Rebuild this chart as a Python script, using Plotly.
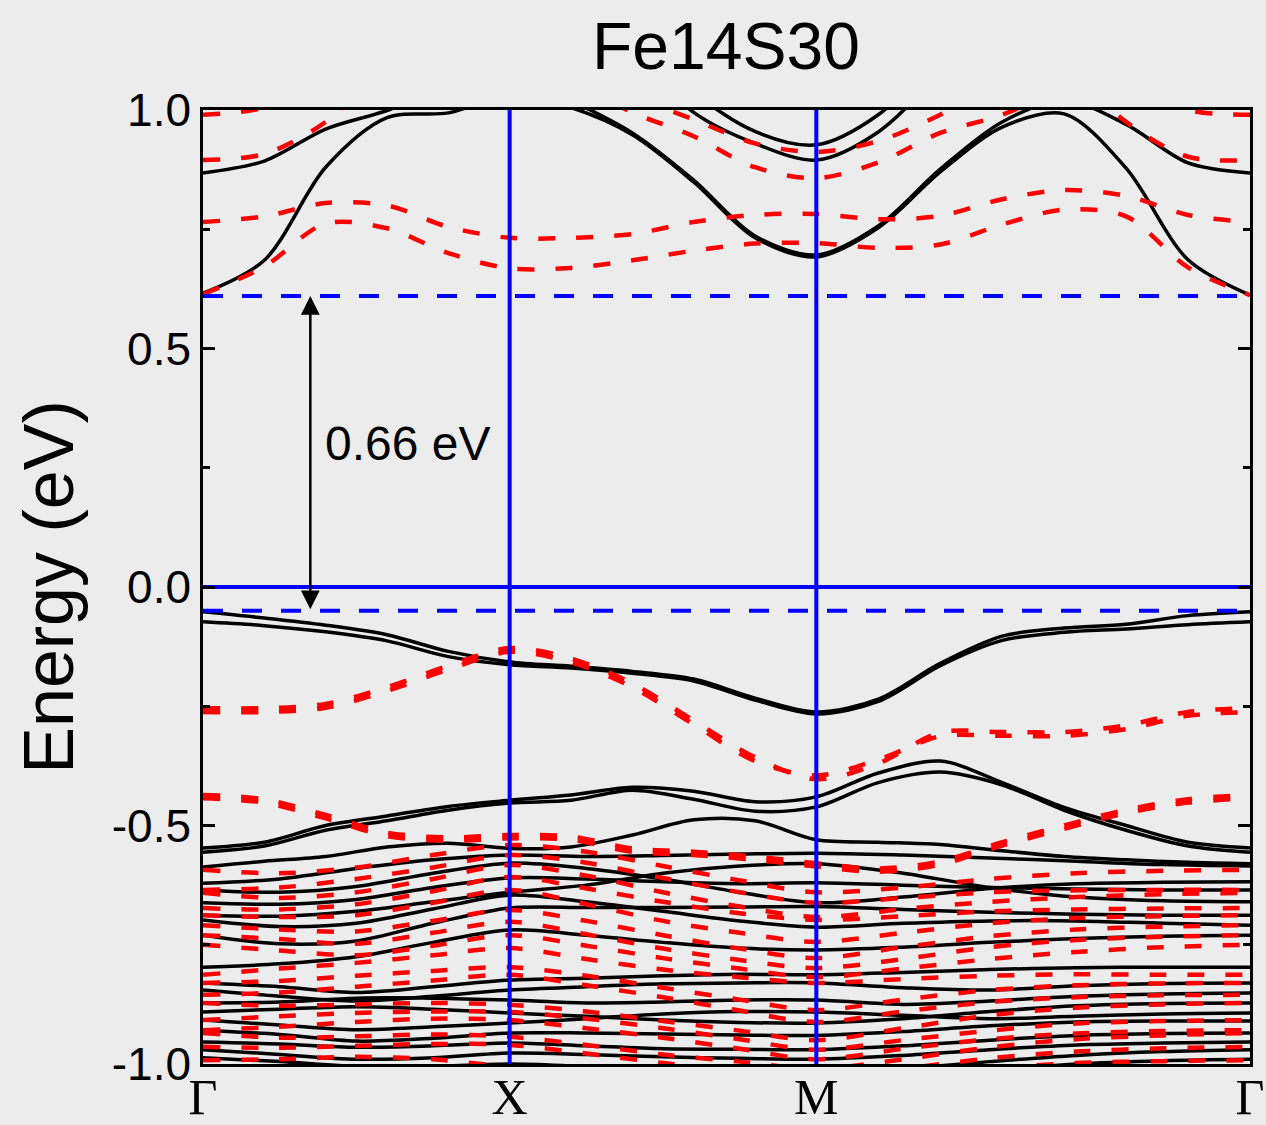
import plotly.graph_objects as go

# ---------------- k-path ----------------
KLABELS = ["Γ", "X", "M", "Γ"]
KNODES = [0.0, 1.0, 2.0, 3.4142]
# sampling grid for the upper bands (18 points)
KU = [0.0, 0.2, 0.4, 0.6, 0.8, 1.0, 1.2, 1.4, 1.6, 1.8, 2.0,
      2.2020, 2.4041, 2.6061, 2.8081, 3.0101, 3.2122, 3.4142]
# sampling grid for the dense lower bands (14 points)
KD = [0.0, 0.25, 0.5, 0.75, 1.0, 1.25, 1.5, 1.75, 2.0,
      2.2828, 2.5657, 2.8485, 3.1314, 3.4142]

# ---------------- gap markers ----------------
VBM = -0.05
CBM = 0.61
GAP_TEXT = "0.66 eV"
ARROW_K = 0.35
GAP_LABEL_K = 0.39
GAP_LABEL_E = 0.30

# ---------------- black (solid) upper bands on KU ----------------
BK_A = [0.616, 0.685, 0.880, 0.984, 0.994, 1.03, 1.005, 0.948, 0.849, 0.732, 0.692,
        0.753, 0.870, 0.964, 0.992, 0.878, 0.686, 0.612]
BK_B = [0.868, 0.893, 0.960, 0.999, 1.05, 1.08, 1.02, 0.952, 0.853, 0.736, 0.696,
        0.757, 0.876, 0.975, 1.02, 0.970, 0.889, 0.868]
BK_DLO = [None, None, None, None, None, None, None, 1.12, 0.995, 0.930, 0.895,
          0.954, 1.08, None, None, None, None, None]
BK_DUP = [None, None, None, None, None, None, None, 1.20, 1.04, 0.955, 0.927,
          0.990, 1.12, None, None, None, None, None]
BK_V1A = [-0.052, -0.065, -0.080, -0.100, -0.135, -0.157, -0.166, -0.177, -0.193, -0.233, -0.262,
          -0.235, -0.160, -0.103, -0.086, -0.078, -0.060, -0.052]
BK_V1B = [-0.073, -0.081, -0.094, -0.113, -0.146, -0.163, -0.170, -0.181, -0.197, -0.237, -0.266,
          -0.240, -0.165, -0.112, -0.095, -0.088, -0.079, -0.073]
BK_V2A = [-0.547, -0.535, -0.500, -0.480, -0.460, -0.447, -0.436, -0.420, -0.428, -0.450, -0.440,
          -0.390, -0.365, -0.410, -0.462, -0.500, -0.535, -0.547]
BK_V2B = [-0.556, -0.543, -0.510, -0.490, -0.468, -0.453, -0.447, -0.426, -0.445, -0.470, -0.461,
          -0.410, -0.388, -0.415, -0.468, -0.510, -0.543, -0.556]
BK_V3 = [-0.587, -0.575, -0.565, -0.545, -0.537, -0.548, -0.545, -0.520, -0.488, -0.490, -0.530,
         -0.535, -0.540, -0.553, -0.565, -0.572, -0.577, -0.580]

# ---------------- red (dashed) upper bands on KU ----------------
RD_1 = [0.614, 0.672, 0.762, 0.752, 0.700, 0.668, 0.669, 0.685, 0.705, 0.720, 0.721,
        0.711, 0.718, 0.760, 0.791, 0.777, 0.670, 0.612]
RD_4 = [0.765, 0.777, 0.805, 0.800, 0.755, 0.732, 0.732, 0.740, 0.765, 0.780, 0.782,
        0.771, 0.778, 0.813, 0.832, 0.820, 0.780, 0.765]
RD_2 = [0.895, 0.908, 0.975, 1.10, None, None, None, None, None, None, None,
        None, None, None, 1.10, 0.975, 0.902, 0.895]
RD_3 = [0.990, 1.005, 1.06, None, None, None, None, None, None, None, None,
        None, None, None, None, 1.06, 1.000, 0.990]
RD_6 = [None, None, None, None, None, 1.12, 1.06, 0.995, 0.945, 0.880, 0.857,
        0.890, 0.952, 0.990, 1.05, None, None, None]
RD_7 = [None, None, None, None, None, None, 1.10, 1.03, 0.980, 0.930, 0.912,
        0.935, 0.990, 1.06, None, None, None, None]
RD_V1A = [-0.254, -0.254, -0.245, -0.210, -0.165, -0.128, -0.150, -0.202, -0.280, -0.357, -0.403,
          -0.370, -0.305, -0.304, -0.304, -0.290, -0.262, -0.254]
RD_V1B = [-0.262, -0.262, -0.253, -0.218, -0.173, -0.136, -0.158, -0.210, -0.288, -0.365, -0.395,
          -0.362, -0.313, -0.312, -0.312, -0.298, -0.270, -0.262]
RD_V2A = [-0.436, -0.445, -0.478, -0.515, -0.525, -0.520, -0.523, -0.548, -0.555, -0.565, -0.579,
          -0.590, -0.575, -0.535, -0.500, -0.467, -0.445, -0.436]
RD_V2B = [-0.443, -0.452, -0.485, -0.522, -0.532, -0.527, -0.530, -0.555, -0.562, -0.572, -0.586,
          -0.597, -0.582, -0.542, -0.507, -0.474, -0.452, -0.443]

# ---------------- dense black bands on KD ----------------
DK01 = [-0.621, -0.612, -0.590, -0.572, -0.562, -0.565, -0.563, -0.560, -0.558, -0.562, -0.568, -0.575, -0.582, -0.585]
DK02 = [-0.635, -0.640, -0.628, -0.600, -0.579, -0.590, -0.612, -0.640, -0.662, -0.650, -0.632, -0.622, -0.619, -0.618]
DK03 = [-0.662, -0.665, -0.655, -0.630, -0.610, -0.612, -0.618, -0.622, -0.620, -0.625, -0.630, -0.633, -0.635, -0.635]
DK04 = [-0.688, -0.690, -0.680, -0.660, -0.640, -0.625, -0.600, -0.585, -0.580, -0.600, -0.630, -0.650, -0.658, -0.660]
DK05 = [-0.698, -0.712, -0.705, -0.675, -0.646, -0.660, -0.680, -0.700, -0.713, -0.705, -0.700, -0.700, -0.705, -0.709]
DK06 = [-0.730, -0.748, -0.742, -0.705, -0.673, -0.672, -0.672, -0.671, -0.670, -0.676, -0.682, -0.686, -0.688, -0.688]
DK07 = [-0.797, -0.790, -0.775, -0.745, -0.719, -0.730, -0.745, -0.757, -0.761, -0.755, -0.745, -0.737, -0.732, -0.730]
DK08 = [-0.830, -0.838, -0.850, -0.838, -0.824, -0.820, -0.815, -0.812, -0.813, -0.808, -0.802, -0.798, -0.797, -0.797]
DK09 = [-0.845, -0.858, -0.868, -0.858, -0.845, -0.838, -0.832, -0.830, -0.830, -0.840, -0.845, -0.836, -0.831, -0.830]
DK10 = [-0.872, -0.870, -0.862, -0.862, -0.866, -0.872, -0.870, -0.866, -0.866, -0.875, -0.868, -0.858, -0.853, -0.851]
DK11 = [-0.891, -0.885, -0.880, -0.885, -0.893, -0.900, -0.908, -0.913, -0.914, -0.905, -0.890, -0.878, -0.873, -0.872]
DK12 = [-0.908, -0.918, -0.928, -0.922, -0.914, -0.905, -0.895, -0.890, -0.891, -0.898, -0.905, -0.900, -0.895, -0.893]
DK13 = [-0.929, -0.938, -0.952, -0.946, -0.935, -0.935, -0.937, -0.939, -0.940, -0.932, -0.920, -0.912, -0.910, -0.910]
DK14 = [-0.954, -0.958, -0.965, -0.962, -0.956, -0.962, -0.968, -0.969, -0.970, -0.962, -0.950, -0.940, -0.936, -0.935]
DK15 = [-0.970, -0.980, -0.990, -0.987, -0.977, -0.980, -0.985, -0.988, -0.990, -0.982, -0.970, -0.960, -0.956, -0.954]
DK16 = [-0.987, -0.995, -1.005, -1.005, -1.000, -1.005, -1.010, -1.015, -1.020, -1.010, -0.995, -0.982, -0.974, -0.970]
DK17 = [-1.020, -1.025, -1.030, -1.030, -1.030, -1.035, -1.040, -1.045, -1.050, -1.035, -1.015, -1.000, -0.993, -0.990]

# ---------------- dense red bands on KD ----------------
DR01 = [-0.593, -0.600, -0.588, -0.562, -0.541, -0.555, -0.585, -0.615, -0.640, -0.630, -0.612, -0.600, -0.595, -0.593]
DR02 = [-0.635, -0.630, -0.612, -0.588, -0.562, -0.578, -0.610, -0.640, -0.662, -0.652, -0.640, -0.636, -0.635, -0.635]
DR03 = [-0.641, -0.652, -0.640, -0.612, -0.583, -0.605, -0.640, -0.670, -0.692, -0.675, -0.660, -0.650, -0.644, -0.641]
DR04 = [-0.673, -0.676, -0.665, -0.638, -0.608, -0.632, -0.660, -0.684, -0.698, -0.690, -0.680, -0.676, -0.674, -0.673]
DR05 = [-0.688, -0.692, -0.688, -0.662, -0.635, -0.665, -0.700, -0.725, -0.744, -0.725, -0.705, -0.694, -0.690, -0.688]
DR06 = [-0.709, -0.718, -0.722, -0.700, -0.677, -0.700, -0.730, -0.758, -0.778, -0.755, -0.732, -0.718, -0.712, -0.709]
DR07 = [-0.730, -0.738, -0.748, -0.725, -0.702, -0.728, -0.758, -0.782, -0.799, -0.780, -0.755, -0.740, -0.733, -0.730]
DR08 = [-0.750, -0.762, -0.772, -0.752, -0.730, -0.752, -0.778, -0.800, -0.818, -0.800, -0.780, -0.765, -0.755, -0.750]
DR09 = [-0.813, -0.800, -0.788, -0.772, -0.757, -0.780, -0.802, -0.818, -0.830, -0.822, -0.815, -0.812, -0.813, -0.813]
DR10 = [-0.830, -0.826, -0.815, -0.805, -0.797, -0.815, -0.840, -0.865, -0.887, -0.865, -0.845, -0.835, -0.831, -0.830]
DR11 = [-0.855, -0.850, -0.838, -0.825, -0.813, -0.835, -0.860, -0.888, -0.912, -0.890, -0.870, -0.860, -0.856, -0.855]
DR12 = [-0.872, -0.878, -0.875, -0.872, -0.876, -0.890, -0.910, -0.930, -0.950, -0.925, -0.898, -0.882, -0.875, -0.872]
DR13 = [-0.908, -0.900, -0.893, -0.890, -0.891, -0.905, -0.925, -0.948, -0.970, -0.950, -0.930, -0.915, -0.910, -0.908]
DR14 = [-0.929, -0.922, -0.912, -0.905, -0.908, -0.925, -0.945, -0.968, -0.990, -0.968, -0.948, -0.936, -0.931, -0.929]
DR15 = [-0.935, -0.945, -0.942, -0.938, -0.943, -0.960, -0.980, -0.995, -1.010, -0.990, -0.965, -0.948, -0.940, -0.935]
DR16 = [-0.964, -0.966, -0.962, -0.958, -0.960, -0.978, -0.998, -1.015, -1.030, -1.010, -0.988, -0.974, -0.967, -0.964]
DR17 = [-0.992, -0.990, -0.985, -0.990, -1.006, -1.015, -1.025, -1.035, -1.050, -1.030, -1.010, -0.998, -0.994, -0.992]

BLACK_UP = [BK_A, BK_B, BK_DLO, BK_DUP, BK_V1A, BK_V1B, BK_V2A, BK_V2B, BK_V3]
RED_UP = [RD_1, RD_4, RD_2, RD_3, RD_6, RD_7, RD_V1A, RD_V1B, RD_V2A, RD_V2B]
BLACK_DENSE = [DK01, DK02, DK03, DK04, DK05, DK06, DK07, DK08, DK09, DK10, DK11, DK12,
               DK13, DK14, DK15, DK16, DK17]
RED_DENSE = [DR01, DR02, DR03, DR04, DR05, DR06, DR07, DR08, DR09, DR10, DR11, DR12,
             DR13, DR14, DR15, DR16, DR17]

BLACK = "#000000"
RED = "#ff0000"
BLUE = "#0000ff"
BG = "#ececec"
SANS = "Liberation Sans, Arial, sans-serif"
SERIF = "Liberation Serif, Times New Roman, serif"
RED_DASH = "17px,21px"

fig = go.Figure()


def add_band(k, e, color, dash, width):
    fig.add_trace(go.Scatter(
        x=k, y=e, mode="lines",
        line=dict(color=color, width=width, dash=dash, shape="spline", smoothing=0.9),
        hoverinfo="skip", showlegend=False, connectgaps=False))


for b in BLACK_DENSE:
    add_band(KD, b, BLACK, "solid", 3.5)
for b in BLACK_UP:
    add_band(KU, b, BLACK, "solid", 3.5)
for b in RED_DENSE:
    add_band(KD, b, RED, RED_DASH, 4.5)
for b in RED_UP:
    add_band(KU, b, RED, RED_DASH, 4.5)

# gap reference lines (dashed blue) and Fermi level (solid blue)
for lvl in (CBM, VBM):
    fig.add_trace(go.Scatter(
        x=[KNODES[0], KNODES[-1]], y=[lvl, lvl], mode="lines",
        line=dict(color=BLUE, width=4, dash="20px,19px"),
        hoverinfo="skip", showlegend=False))
fig.add_trace(go.Scatter(
    x=[KNODES[0], KNODES[-1]], y=[0, 0], mode="lines",
    line=dict(color=BLUE, width=4),
    hoverinfo="skip", showlegend=False))

# vertical high-symmetry lines
for kn in KNODES[1:-1]:
    fig.add_shape(type="line", xref="x", yref="y", x0=kn, x1=kn, y0=-1.0, y1=1.0,
                  line=dict(color=BLUE, width=4), layer="above")

# double-headed gap arrow
fig.add_annotation(x=ARROW_K, y=CBM, ax=ARROW_K, ay=VBM, xref="x", yref="y",
                   axref="x", ayref="y", text="", showarrow=True,
                   arrowhead=2, startarrowhead=2, arrowside="end+start",
                   arrowsize=1.5, startarrowsize=1.5, arrowwidth=2.5, arrowcolor=BLACK)
fig.add_annotation(x=GAP_LABEL_K, y=GAP_LABEL_E, xref="x", yref="y", text=GAP_TEXT,
                   showarrow=False, xanchor="left", yanchor="middle",
                   font=dict(family=SANS, size=48, color=BLACK))

fig.update_layout(
    width=1266, height=1125,
    margin=dict(l=203, r=16, t=110, b=61, autoexpand=False),
    paper_bgcolor=BG, plot_bgcolor=BG,
    title=dict(text="Fe14S30", x=0.5734, xanchor="center", y=0.959, yanchor="middle",
               font=dict(family=SANS, size=66, color=BLACK)),
    xaxis=dict(range=[KNODES[0], KNODES[-1]], tickvals=KNODES, ticktext=KLABELS,
               tickfont=dict(family=SERIF, size=50, color=BLACK), ticks="",
               ticklabelstandoff=-13, ticklabeloverflow="allow",
               showline=True, linecolor=BLACK, linewidth=2.5, mirror=True,
               showgrid=False, zeroline=False, automargin=False),
    yaxis=dict(range=[-1.0, 1.0], tickvals=[-1.0, -0.5, 0.0, 0.5, 1.0],
               ticktext=["-1.0", "-0.5", "0.0", "0.5", "1.0"],
               tickfont=dict(family=SANS, size=46, color=BLACK),
               ticks="inside", ticklen=12, tickwidth=2.5, tickcolor=BLACK,
               minor=dict(tickvals=[-0.75, -0.25, 0.25, 0.75], ticks="inside",
                          ticklen=7, tickwidth=2.5, tickcolor=BLACK),
               showline=True, linecolor=BLACK, linewidth=2.5, mirror="ticks",
               showgrid=False, zeroline=False, ticklabelstandoff=0, automargin=False,
               title=dict(text="Energy (eV)", font=dict(family=SANS, size=70, color=BLACK),
                          standoff=16)),
)

fig.write_html("out.html")
